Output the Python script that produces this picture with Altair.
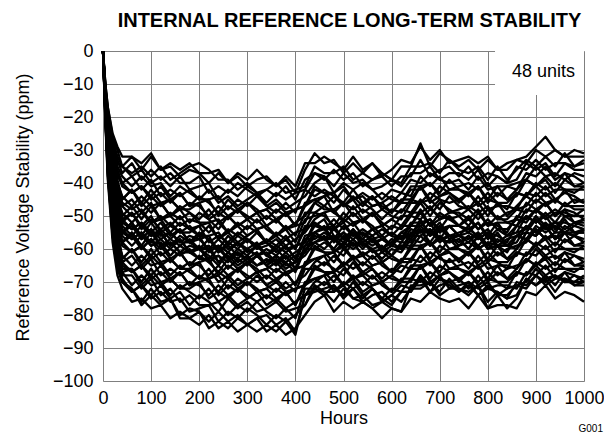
import altair as alt
import pandas as pd

# ---------------- data ----------------
hours = [0, 5, 10, 20, 30, 40, 60, 80, 100, 120, 140, 160, 180, 200, 220, 240, 260, 280,
         300, 320, 340, 360, 380, 400, 420, 440, 460, 480, 500, 520, 540, 560, 580, 600,
         620, 640, 660, 680, 700, 720, 740, 760, 780, 800, 820, 840, 860, 880, 900, 920,
         940, 960, 980, 1000]

units_ppm = [
    [0,-10,-17,-25,-29,-32,-32,-34,-31,-36,-34,-36,-34,-37,-37,-36,-40,-37,-39,-36,-39,-41,-38,-41,-34,-34,-32,-34,-36,-32,-36,-34,-38,-36,-33,-34,-29,-33,-30,-34,-33,-32,-34,-32,-36,-34,-33,-32,-29,-26,-30,-32,-30,-31],
    [0,-10,-17,-26,-30,-35,-32,-36,-32,-36,-35,-38,-36,-37,-40,-37,-40,-38,-41,-39,-38,-41,-39,-43,-36,-31,-34,-33,-37,-34,-37,-34,-37,-39,-35,-35,-28,-35,-31,-33,-35,-33,-36,-33,-36,-36,-33,-34,-30,-32,-30,-32,-32,-32],
    [0,-11,-18,-27,-32,-35,-37,-35,-38,-35,-39,-37,-35,-34,-36,-39,-39,-42,-40,-43,-42,-40,-43,-42,-41,-35,-37,-37,-35,-39,-37,-39,-37,-39,-40,-35,-35,-34,-37,-33,-36,-37,-35,-39,-35,-39,-36,-33,-35,-32,-35,-31,-35,-34],
    [0,-11,-19,-28,-33,-37,-34,-39,-36,-39,-37,-40,-40,-38,-43,-41,-43,-40,-42,-44,-42,-44,-41,-45,-39,-37,-39,-36,-39,-37,-41,-39,-38,-41,-38,-38,-33,-38,-36,-35,-38,-35,-39,-37,-38,-40,-35,-36,-33,-36,-34,-34,-35,-33],
    [0,-11,-19,-29,-34,-35,-38,-36,-40,-38,-41,-38,-42,-41,-40,-45,-42,-44,-41,-43,-46,-43,-45,-43,-42,-37,-38,-41,-37,-40,-39,-42,-41,-39,-41,-37,-37,-35,-39,-37,-37,-39,-36,-41,-38,-40,-39,-34,-36,-34,-38,-34,-36,-36],
    [0,-12,-20,-30,-35,-38,-41,-38,-41,-40,-44,-41,-43,-45,-42,-46,-44,-47,-45,-43,-47,-45,-48,-46,-44,-40,-38,-43,-40,-42,-40,-42,-45,-42,-43,-39,-40,-37,-39,-40,-39,-42,-38,-42,-41,-41,-42,-37,-38,-35,-39,-37,-38,-40],
    [0,-12,-21,-31,-36,-40,-38,-42,-39,-44,-42,-44,-42,-45,-45,-44,-48,-45,-47,-44,-47,-49,-46,-49,-42,-44,-42,-44,-46,-42,-46,-44,-48,-46,-43,-44,-38,-41,-38,-42,-41,-40,-42,-40,-44,-41,-40,-39,-35,-38,-37,-39,-37,-38],
    [0,-12,-21,-32,-37,-41,-43,-41,-44,-41,-45,-43,-47,-44,-46,-49,-45,-48,-46,-49,-48,-46,-49,-48,-47,-41,-43,-43,-41,-45,-43,-45,-43,-45,-46,-41,-41,-40,-43,-39,-42,-43,-41,-45,-41,-45,-42,-39,-41,-38,-41,-37,-41,-40],
    [0,-12,-22,-32,-38,-40,-43,-41,-45,-43,-46,-43,-47,-46,-45,-50,-47,-49,-46,-48,-51,-48,-50,-48,-47,-42,-43,-46,-42,-45,-44,-47,-46,-44,-46,-42,-42,-40,-44,-42,-42,-44,-41,-46,-43,-45,-44,-39,-41,-39,-43,-39,-41,-41],
    [0,-13,-22,-33,-39,-45,-42,-46,-42,-46,-45,-48,-46,-47,-50,-47,-50,-48,-51,-49,-48,-51,-49,-53,-46,-45,-44,-43,-47,-44,-47,-44,-47,-49,-45,-45,-41,-45,-41,-43,-45,-43,-46,-43,-46,-46,-43,-44,-40,-42,-40,-42,-42,-42],
    [0,-13,-23,-34,-40,-45,-42,-47,-44,-47,-45,-48,-48,-46,-51,-49,-51,-48,-50,-52,-50,-52,-49,-53,-47,-45,-47,-44,-47,-45,-49,-47,-46,-49,-46,-46,-41,-46,-44,-43,-46,-43,-47,-45,-46,-48,-43,-44,-41,-44,-42,-42,-43,-41],
    [0,-13,-23,-35,-40,-44,-47,-44,-47,-46,-50,-47,-49,-51,-48,-52,-50,-53,-51,-49,-53,-51,-54,-52,-50,-46,-44,-49,-46,-48,-46,-48,-51,-48,-49,-45,-46,-43,-45,-46,-45,-48,-44,-48,-47,-47,-48,-43,-44,-41,-45,-43,-44,-46],
    [0,-13,-24,-35,-41,-46,-48,-46,-49,-46,-50,-48,-52,-49,-51,-54,-50,-53,-51,-54,-53,-51,-54,-53,-52,-46,-48,-48,-46,-50,-48,-50,-48,-50,-51,-46,-46,-45,-48,-44,-47,-48,-46,-50,-46,-50,-47,-44,-46,-43,-46,-42,-46,-45],
    [0,-14,-24,-36,-42,-47,-45,-49,-46,-51,-49,-51,-49,-52,-52,-51,-55,-52,-54,-51,-54,-56,-53,-56,-49,-49,-47,-49,-51,-47,-51,-49,-53,-51,-48,-49,-45,-48,-45,-49,-48,-47,-49,-47,-51,-49,-48,-47,-43,-46,-45,-47,-45,-46],
    [0,-14,-25,-37,-43,-50,-47,-51,-47,-51,-50,-53,-51,-52,-55,-52,-55,-53,-56,-54,-53,-56,-54,-58,-51,-50,-49,-48,-52,-49,-52,-49,-52,-54,-50,-50,-46,-50,-46,-48,-50,-48,-51,-48,-51,-51,-48,-49,-45,-47,-45,-47,-47,-47],
    [0,-14,-25,-38,-44,-47,-50,-48,-52,-50,-53,-50,-54,-53,-52,-57,-54,-56,-53,-55,-58,-55,-57,-55,-54,-49,-50,-53,-49,-52,-51,-54,-53,-51,-53,-49,-49,-47,-51,-49,-49,-51,-48,-53,-50,-52,-51,-46,-48,-46,-50,-46,-48,-48],
    [0,-14,-26,-38,-45,-49,-52,-49,-52,-51,-55,-52,-54,-56,-53,-57,-55,-58,-56,-54,-58,-56,-59,-57,-55,-51,-49,-54,-51,-53,-51,-53,-56,-53,-54,-50,-51,-48,-50,-51,-50,-53,-49,-53,-52,-52,-53,-48,-49,-46,-50,-48,-49,-51],
    [0,-15,-26,-39,-46,-52,-49,-54,-51,-54,-52,-55,-55,-53,-58,-56,-58,-55,-57,-59,-57,-59,-56,-60,-54,-52,-54,-51,-54,-52,-56,-54,-53,-56,-53,-53,-48,-53,-51,-50,-53,-50,-54,-52,-53,-55,-50,-51,-48,-51,-49,-49,-50,-48],
    [0,-15,-26,-39,-46,-51,-49,-53,-50,-55,-53,-55,-53,-56,-56,-55,-59,-56,-58,-55,-58,-60,-57,-60,-53,-53,-51,-56,-58,-54,-58,-56,-60,-58,-55,-56,-52,-55,-52,-56,-55,-54,-56,-54,-58,-56,-55,-54,-50,-53,-52,-54,-52,-53],
    [0,-15,-27,-40,-47,-52,-54,-52,-55,-52,-56,-54,-58,-55,-57,-60,-56,-59,-57,-60,-59,-57,-60,-59,-58,-52,-54,-54,-52,-56,-54,-56,-54,-56,-57,-52,-52,-51,-54,-50,-53,-54,-52,-56,-52,-56,-53,-50,-52,-49,-52,-48,-52,-51],
    [0,-15,-27,-41,-48,-51,-54,-52,-56,-54,-57,-54,-58,-57,-56,-61,-58,-60,-57,-59,-62,-59,-61,-59,-58,-53,-54,-57,-53,-56,-55,-58,-57,-55,-57,-53,-53,-51,-55,-53,-53,-55,-52,-57,-54,-56,-55,-50,-52,-50,-54,-50,-52,-52],
    [0,-15,-27,-41,-48,-55,-52,-56,-52,-56,-55,-58,-56,-57,-60,-57,-60,-58,-61,-59,-58,-61,-59,-63,-56,-55,-54,-53,-57,-54,-57,-54,-57,-59,-55,-53,-49,-53,-49,-51,-53,-51,-54,-51,-54,-54,-51,-52,-48,-50,-48,-50,-50,-50],
    [0,-15,-28,-41,-48,-55,-52,-57,-54,-57,-55,-58,-58,-56,-61,-59,-61,-58,-60,-62,-60,-62,-59,-63,-57,-55,-57,-54,-57,-55,-59,-57,-56,-59,-56,-56,-51,-56,-54,-53,-56,-53,-57,-55,-56,-58,-53,-54,-51,-54,-52,-52,-53,-51],
    [0,-15,-28,-41,-48,-53,-56,-53,-56,-55,-59,-56,-58,-60,-57,-61,-59,-62,-60,-58,-62,-60,-63,-61,-59,-55,-53,-58,-55,-57,-55,-57,-60,-57,-58,-54,-55,-52,-57,-58,-57,-60,-56,-60,-59,-59,-60,-55,-56,-53,-57,-55,-56,-58],
    [0,-16,-28,-42,-49,-55,-53,-57,-54,-59,-57,-59,-57,-60,-60,-59,-63,-60,-62,-59,-62,-64,-61,-64,-57,-57,-55,-57,-59,-55,-59,-57,-61,-59,-56,-57,-53,-56,-53,-57,-56,-55,-57,-55,-59,-57,-56,-55,-51,-54,-53,-55,-53,-54],
    [0,-16,-28,-42,-49,-55,-57,-55,-58,-55,-59,-57,-61,-60,-62,-65,-61,-64,-62,-65,-64,-62,-65,-64,-61,-55,-57,-57,-55,-59,-57,-59,-57,-59,-60,-55,-55,-54,-57,-53,-56,-57,-55,-59,-55,-59,-56,-53,-55,-52,-55,-51,-55,-54],
    [0,-16,-29,-43,-50,-54,-57,-55,-59,-57,-60,-57,-61,-60,-59,-64,-61,-63,-60,-62,-65,-62,-64,-62,-61,-56,-57,-60,-56,-59,-58,-61,-60,-58,-60,-56,-56,-54,-58,-56,-56,-58,-55,-60,-57,-59,-58,-53,-55,-53,-57,-53,-55,-55],
    [0,-16,-29,-43,-50,-58,-55,-59,-55,-59,-58,-61,-59,-60,-63,-60,-63,-61,-64,-62,-61,-64,-62,-66,-59,-58,-57,-56,-60,-57,-60,-57,-60,-62,-58,-58,-54,-58,-54,-56,-58,-56,-59,-56,-59,-59,-56,-57,-53,-55,-53,-55,-55,-55],
    [0,-16,-29,-44,-51,-58,-55,-60,-57,-60,-58,-61,-61,-59,-64,-62,-64,-61,-63,-65,-63,-65,-62,-66,-60,-58,-60,-57,-60,-58,-62,-60,-59,-62,-59,-59,-54,-59,-57,-56,-59,-56,-60,-58,-59,-61,-56,-57,-54,-57,-55,-55,-56,-54],
    [0,-16,-29,-44,-51,-56,-59,-56,-59,-58,-62,-59,-61,-63,-60,-64,-62,-65,-63,-61,-65,-63,-66,-64,-62,-58,-56,-61,-58,-60,-58,-60,-63,-60,-61,-57,-58,-55,-57,-58,-57,-60,-56,-60,-59,-59,-60,-55,-56,-53,-57,-55,-56,-58],
    [0,-17,-30,-44,-52,-58,-56,-60,-57,-62,-60,-62,-60,-63,-63,-62,-66,-63,-65,-62,-65,-67,-64,-67,-60,-60,-58,-60,-62,-58,-62,-60,-64,-62,-59,-60,-56,-59,-56,-60,-59,-58,-60,-58,-62,-60,-59,-58,-54,-57,-56,-58,-56,-57],
    [0,-17,-30,-45,-53,-59,-61,-59,-62,-59,-63,-61,-65,-62,-64,-67,-63,-66,-64,-67,-66,-64,-67,-66,-65,-59,-61,-61,-59,-63,-61,-63,-61,-63,-64,-59,-59,-58,-61,-57,-60,-61,-59,-63,-59,-63,-60,-57,-59,-56,-59,-55,-59,-58],
    [0,-17,-31,-46,-54,-58,-61,-59,-63,-61,-64,-61,-65,-64,-63,-68,-65,-67,-64,-66,-69,-66,-68,-66,-65,-60,-61,-64,-60,-63,-62,-65,-64,-62,-64,-60,-60,-58,-62,-60,-60,-62,-59,-64,-61,-63,-62,-57,-59,-57,-61,-57,-59,-59],
    [0,-17,-31,-47,-55,-63,-60,-64,-60,-64,-63,-66,-64,-65,-68,-65,-68,-66,-69,-67,-66,-69,-67,-71,-64,-63,-62,-61,-65,-62,-65,-62,-65,-67,-63,-63,-59,-63,-59,-61,-63,-61,-64,-61,-64,-64,-61,-62,-58,-60,-58,-60,-60,-60],
    [0,-18,-32,-47,-55,-63,-60,-65,-62,-65,-63,-66,-66,-64,-69,-67,-69,-66,-68,-70,-68,-70,-67,-71,-65,-63,-65,-62,-65,-63,-67,-65,-64,-67,-64,-64,-59,-64,-62,-61,-64,-61,-65,-63,-64,-66,-61,-62,-59,-62,-60,-60,-61,-59],
    [0,-18,-32,-48,-56,-62,-65,-62,-65,-64,-68,-65,-67,-69,-66,-70,-68,-71,-69,-67,-71,-69,-72,-70,-68,-64,-62,-67,-64,-66,-64,-66,-69,-66,-67,-63,-64,-61,-63,-64,-63,-66,-62,-66,-65,-65,-66,-61,-62,-59,-63,-61,-62,-64],
    [0,-18,-33,-49,-57,-64,-62,-66,-63,-68,-66,-68,-66,-69,-69,-68,-72,-69,-71,-68,-71,-73,-70,-73,-66,-66,-64,-66,-68,-64,-68,-66,-70,-68,-65,-66,-62,-65,-62,-66,-65,-64,-66,-64,-68,-66,-65,-64,-60,-63,-62,-64,-62,-63],
    [0,-18,-33,-50,-58,-65,-67,-65,-68,-65,-69,-67,-71,-68,-70,-73,-69,-72,-70,-73,-72,-70,-73,-72,-71,-65,-67,-67,-65,-69,-67,-69,-67,-69,-70,-65,-65,-64,-67,-63,-66,-67,-65,-69,-65,-69,-66,-63,-65,-62,-65,-61,-65,-64],
    [0,-19,-34,-50,-59,-64,-67,-65,-69,-67,-70,-67,-71,-70,-69,-74,-71,-73,-70,-72,-75,-72,-74,-72,-71,-66,-67,-70,-66,-69,-68,-71,-70,-68,-70,-66,-66,-64,-68,-66,-66,-68,-65,-70,-67,-69,-68,-63,-65,-63,-67,-63,-65,-65],
    [0,-19,-34,-51,-60,-66,-66,-70,-66,-70,-69,-72,-70,-71,-74,-71,-74,-72,-75,-73,-72,-75,-73,-77,-70,-69,-68,-67,-71,-68,-71,-68,-71,-73,-69,-69,-65,-69,-65,-67,-69,-67,-70,-67,-70,-70,-67,-68,-64,-66,-64,-66,-66,-66],
    [0,-19,-35,-52,-61,-67,-66,-71,-68,-71,-69,-72,-72,-70,-75,-73,-75,-72,-74,-76,-74,-76,-73,-77,-71,-69,-71,-68,-71,-69,-73,-71,-70,-73,-70,-70,-65,-70,-68,-67,-70,-67,-71,-69,-70,-72,-67,-68,-65,-68,-66,-66,-67,-65],
    [0,-20,-35,-53,-62,-67,-71,-68,-71,-70,-74,-71,-73,-75,-72,-76,-74,-77,-75,-73,-77,-75,-78,-76,-74,-70,-68,-73,-70,-72,-70,-72,-75,-72,-73,-69,-70,-67,-69,-70,-69,-72,-68,-72,-71,-71,-72,-67,-68,-65,-69,-67,-68,-70],
    [0,-20,-36,-53,-62,-68,-68,-72,-69,-74,-72,-76,-74,-77,-77,-76,-80,-77,-79,-76,-79,-81,-78,-81,-72,-72,-70,-72,-74,-70,-74,-72,-76,-74,-71,-72,-68,-71,-68,-72,-71,-70,-72,-70,-74,-72,-71,-70,-66,-69,-68,-70,-68,-69],
    [0,-20,-36,-54,-63,-69,-73,-71,-74,-71,-75,-73,-77,-74,-76,-79,-75,-78,-76,-79,-78,-76,-79,-78,-77,-71,-73,-73,-71,-75,-76,-78,-76,-78,-79,-71,-71,-70,-73,-69,-72,-73,-71,-78,-74,-78,-75,-69,-71,-68,-71,-67,-71,-70],
    [0,-20,-37,-55,-64,-70,-73,-71,-75,-73,-76,-75,-79,-78,-77,-82,-79,-81,-78,-80,-83,-80,-82,-80,-77,-72,-73,-76,-72,-75,-74,-77,-76,-74,-76,-72,-72,-70,-74,-72,-72,-74,-71,-76,-73,-75,-74,-69,-71,-69,-73,-69,-71,-71],
    [0,-21,-37,-56,-65,-70,-72,-76,-72,-76,-75,-80,-78,-79,-82,-79,-82,-80,-83,-81,-80,-83,-81,-85,-74,-73,-72,-71,-75,-72,-75,-72,-75,-77,-73,-73,-69,-73,-69,-71,-73,-71,-74,-71,-74,-74,-71,-72,-68,-70,-68,-70,-70,-70],
    [0,-21,-38,-56,-66,-70,-72,-77,-74,-77,-75,-81,-81,-79,-84,-82,-84,-81,-83,-85,-83,-85,-82,-86,-74,-72,-74,-71,-74,-72,-76,-74,-73,-76,-73,-73,-68,-73,-71,-70,-73,-70,-74,-72,-73,-75,-70,-71,-68,-71,-69,-69,-70,-68],
    [0,-22,-39,-58,-68,-72,-76,-75,-78,-77,-81,-79,-81,-83,-80,-84,-82,-85,-83,-81,-85,-83,-86,-84,-80,-76,-74,-79,-76,-78,-76,-78,-81,-78,-79,-75,-76,-73,-75,-76,-75,-78,-74,-78,-77,-77,-78,-73,-74,-71,-75,-73,-74,-76],
]

x_ticks = [0, 100, 200, 300, 400, 500, 600, 700, 800, 900, 1000]
y_ticks = [-100, -90, -80, -70, -60, -50, -40, -30, -20, -10, 0]

title_text = "INTERNAL REFERENCE LONG-TERM STABILITY"
x_title = "Hours"
y_title = "Reference Voltage Stability (ppm)"
legend_note = "48 units"
figure_id = "G001"

# ---------------- tables ----------------
rows = []
for k, series in enumerate(units_ppm, start=1):
    for h, v in zip(hours, series):
        rows.append({"unit": k, "hours": h, "ppm": v})
df = pd.DataFrame(rows)

note_box = pd.DataFrame({"hours": [815], "hours_end": [1000], "ppm": [0], "ppm_end": [-13.3]})
note_text = pd.DataFrame({"hours": [916], "ppm": [-6.5], "label": [legend_note]})
fig_id = pd.DataFrame({"label": [figure_id]})

FONT = "Liberation Sans"

x_scale = alt.Scale(domain=[0, 1000], nice=False, zero=False)
y_scale = alt.Scale(domain=[-100, 0], nice=False, zero=False)


def x_axis():
    return alt.Axis(values=x_ticks, title=x_title, grid=True, gridColor="#7f7f7f", gridWidth=1,
                    domain=False, ticks=False, labelFlush=False, labelOverlap=False,
                    labelFont=FONT, labelFontSize=18, labelColor="black", labelPadding=8,
                    titleFont=FONT, titleFontSize=18, titleFontWeight="normal",
                    titleColor="black", titlePadding=2, format="d")


def y_axis():
    return alt.Axis(values=y_ticks, title=y_title, grid=True, gridColor="#7f7f7f", gridWidth=1,
                    domain=False, ticks=False, labelOverlap=False, labelFlush=False,
                    labelFont=FONT, labelFontSize=18, labelColor="black", labelPadding=10,
                    titleFont=FONT, titleFontSize=18, titleFontWeight="normal",
                    titleColor="black", titlePadding=20, titleY=156, format="d")


lines = alt.Chart(df).mark_line(color="black", strokeWidth=2.3, strokeJoin="round").encode(
    x=alt.X("hours:Q", scale=x_scale, axis=x_axis()),
    y=alt.Y("ppm:Q", scale=y_scale, axis=y_axis()),
    detail="unit:N",
)

box = alt.Chart(note_box).mark_rect(color="white").encode(
    x=alt.X("hours:Q", scale=x_scale, axis=x_axis()), x2="hours_end:Q",
    y=alt.Y("ppm:Q", scale=y_scale, axis=y_axis()), y2="ppm_end:Q",
)

note = alt.Chart(note_text).mark_text(font=FONT, fontSize=18, color="black",
                                      align="center", baseline="middle").encode(
    x=alt.X("hours:Q", scale=x_scale, axis=x_axis()),
    y=alt.Y("ppm:Q", scale=y_scale, axis=y_axis()),
    text="label:N",
)

gid = alt.Chart(fig_id).mark_text(font=FONT, fontSize=10, color="black",
                                  align="right", baseline="middle").encode(
    x=alt.value(500), y=alt.value(378), text="label:N",
)

chart = alt.layer(lines, box, note, gid).properties(
    width=481, height=330,
    title=alt.TitleParams(title_text, font=FONT, fontSize=20, fontWeight="bold",
                          anchor="middle", color="black", offset=11, dx=6),
    autosize=alt.AutoSizeParams(type="none"),
    padding={"left": 95, "top": 43, "right": 20, "bottom": 56},
).configure_view(stroke="black", strokeWidth=2).configure(background="white")

chart.save("out.html", embed_options={"renderer": "svg", "actions": False})
